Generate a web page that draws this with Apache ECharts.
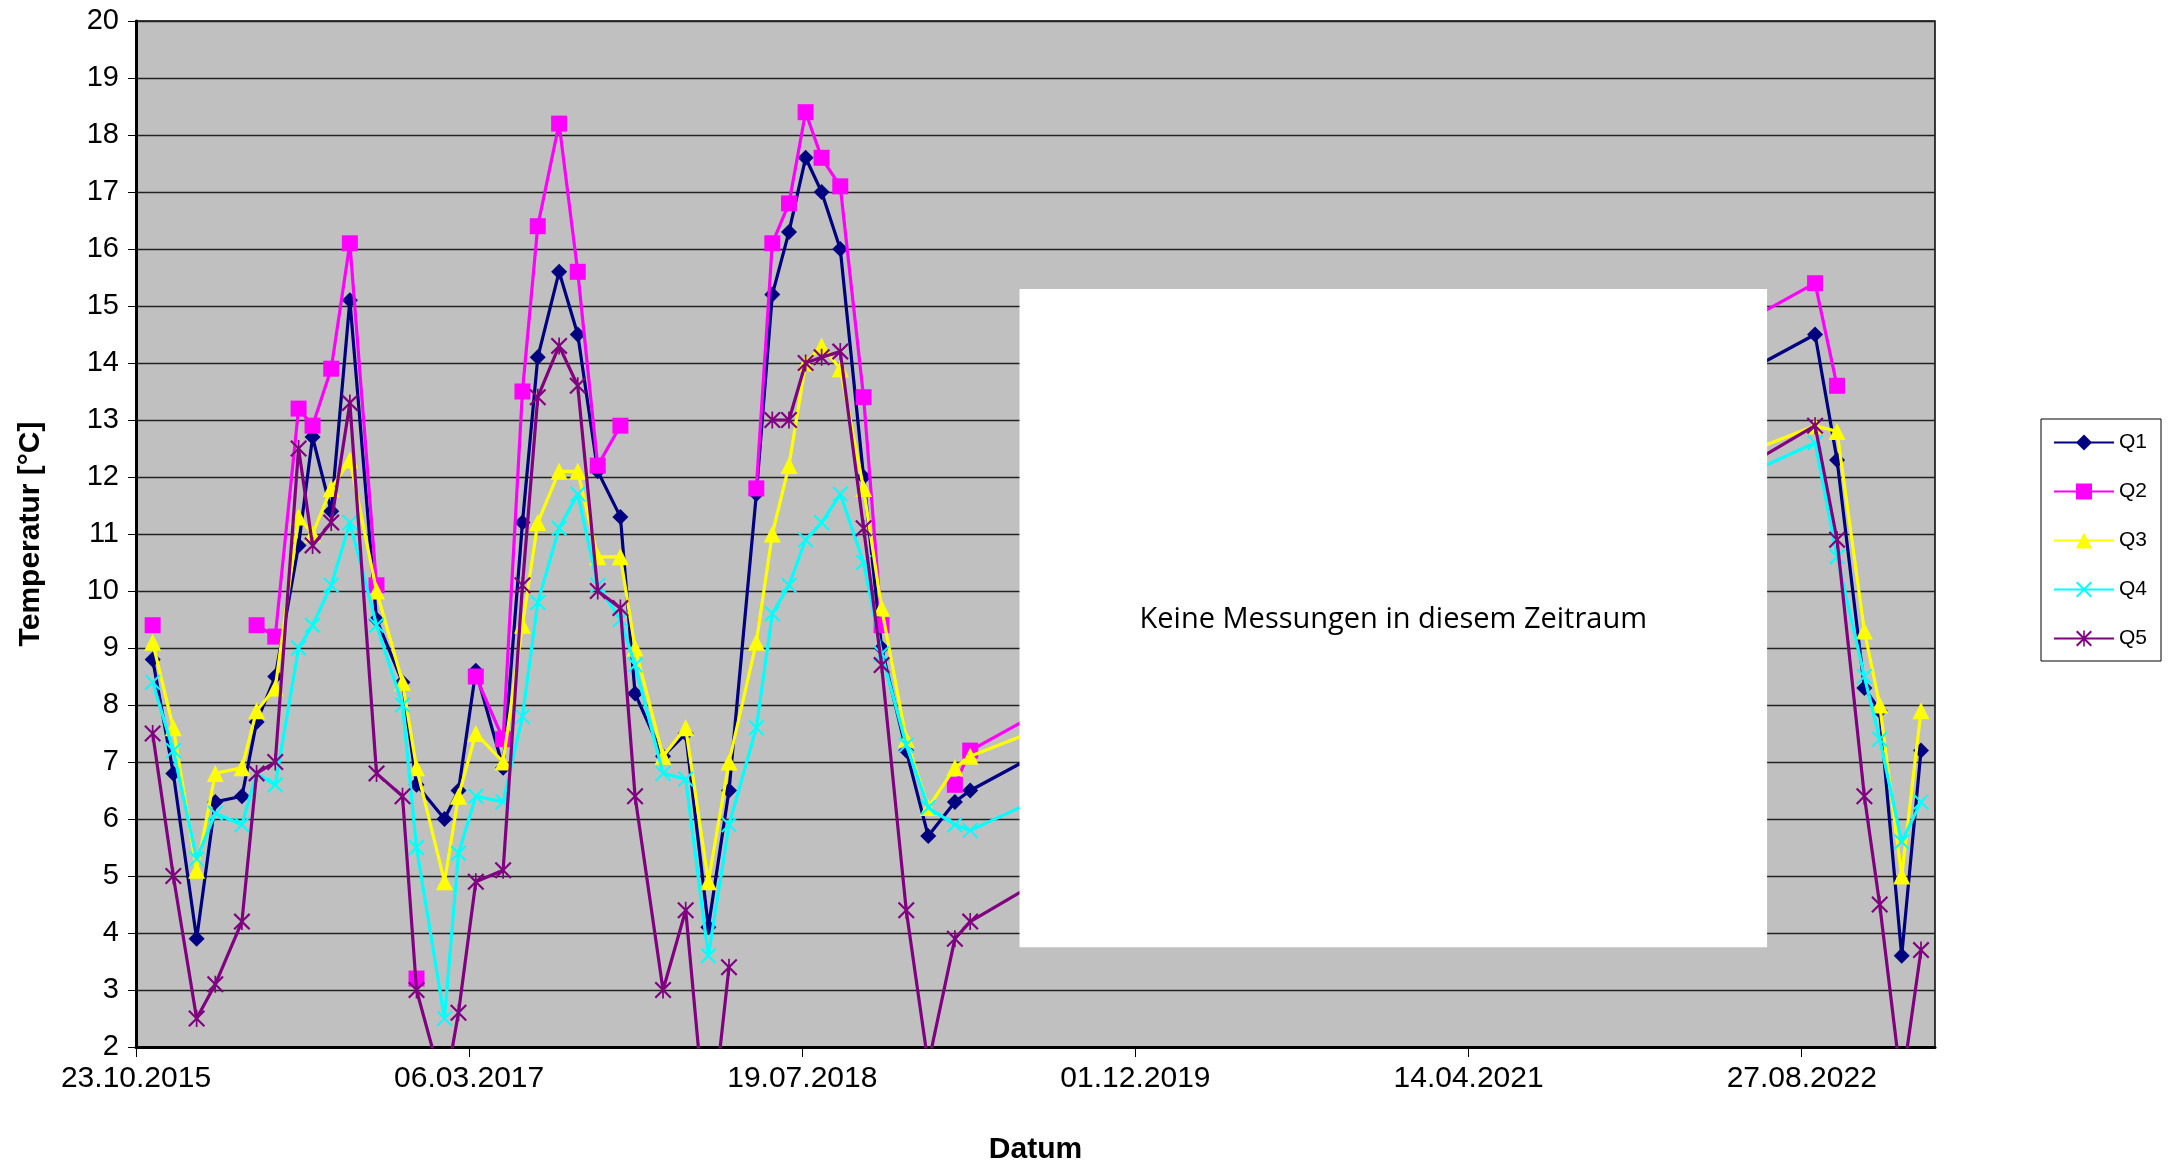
<!DOCTYPE html>
<html>
<head>
<meta charset="utf-8">
<title>Temperatur Q1 - Q5</title>
<script src="https://cdn.jsdelivr.net/npm/echarts@6/dist/echarts.min.js"></script>
<style>
  html, body { margin: 0; padding: 0; background: #fff; }
  #chart { width: 2175px; height: 1170px; }
</style>
</head>
<body>
<div id="chart"></div>
<script>
// Probenahme-Daten und Temperaturen [°C] der Quellen Q1-Q5 (null = kein Messwert)
var dates = ['2015-11-17', '2015-12-18', '2016-01-22', '2016-02-19', '2016-03-30', '2016-04-21',
  '2016-05-19', '2016-06-23', '2016-07-14', '2016-08-11', '2016-09-08', '2016-10-18', '2016-11-26',
  '2016-12-17', '2017-01-28', '2017-02-18', '2017-03-16', '2017-04-26', '2017-05-25', '2017-06-17',
  '2017-07-19', '2017-08-16', '2017-09-15', '2017-10-19', '2017-11-10', '2017-12-22', '2018-01-25',
  '2018-02-28', '2018-03-31', '2018-05-11', '2018-06-04', '2018-06-29', '2018-07-24', '2018-08-17',
  '2018-09-14', '2018-10-19', '2018-11-15', '2018-12-22', '2019-01-24', '2019-03-05', '2019-03-28',
  '2022-09-16', '2022-10-19', '2022-11-29', '2022-12-22', '2023-01-24', '2023-02-22'];

var q1 = [8.8, 6.8, 3.9, 6.3, 6.4, 7.7, 8.5, 10.8, 12.7, 11.4, 15.1,
  9.5, 8.4, 6.6, 6.0, 6.5, 8.6, 6.9, 11.2, 14.1, 15.6, 14.5,
  12.1, 11.3, 8.2, 7.1, 7.5, 4.1, 6.5,
  11.7, 15.2, 16.3, 17.6, 17.0, 16.0, 12.0, 9.0, 7.2, 5.7, 6.3, 6.5,
  14.5, 12.3, 8.3, 7.9, 3.6, 7.2];
var q2 = [9.4, null, null, null, null, 9.4, 9.2, 13.2, 12.9, 13.9, 16.1,
  10.1, null, 3.2, null, null, 8.5, 7.4, 13.5, 16.4, 18.2, 15.6,
  12.2, 12.9, null, null, null, null, null,
  11.8, 16.1, 16.8, 18.4, 17.6, 17.1, 13.4, 9.4, null, null, 6.6, 7.2,
  15.4, 13.6, null, null, null, null];
var q3 = [9.1, 7.6, 5.1, 6.8, 6.9, 7.9, 8.3, 11.3, 11.0, 11.8, 12.3,
  10.0, 8.4, 6.9, 4.9, 6.4, 7.5, 7.0, 9.4, 11.2, 12.1, 12.1,
  10.6, 10.6, 9.0, 7.1, 7.6, 4.9, 7.0,
  9.1, 11.0, 12.2, 14.0, 14.3, 13.9, 11.8, 9.7, 7.4, 6.2, 6.9, 7.1,
  12.9, 12.8, 9.3, 8.0, 5.0, 7.9];
var q4 = [8.4, 7.2, 5.3, 6.1, 5.9, 6.8, 6.6, 9.0, 9.4, 10.1, 11.2,
  9.4, 8.0, 5.5, 2.5, 5.4, 6.4, 6.3, 7.8, 9.8, 11.1, 11.7,
  10.1, 9.5, 8.7, 6.8, 6.7, 3.6, 5.9,
  7.6, 9.6, 10.1, 10.9, 11.2, 11.7, 10.5, 8.9, 7.3, 6.2, 5.9, 5.8,
  12.6, 10.6, 8.5, 7.4, 5.6, 6.3];
var q5 = [7.5, 5.0, 2.5, 3.1, 4.2, 6.8, 7.0, 12.5, 10.8, 11.2, 13.3,
  6.8, 6.4, 3.0, 1.2, 2.6, 4.9, 5.1, 10.1, 13.4, 14.3, 13.6,
  10.0, 9.7, 6.4, 3.0, 4.4, 0.1, 3.4,
  null, 13.0, 13.0, 14.0, 14.1, 14.2, 11.1, 8.7, 4.4, 1.7, 3.9, 4.2,
  12.9, 10.9, 6.4, 4.5, 1.3, 3.7];

var seriesNames = ['Q1', 'Q2', 'Q3', 'Q4', 'Q5'];
var seriesColors = ['#000080', '#ff00ff', '#ffff00', '#00ffff', '#800080'];

// Achse: Tage ab 23.10.2015, Teilung 500 Tage
var startDate = '2015-10-23';
var axisDays = [0, 2700, 500];
var tempAxis = [2, 20, 1];

// Zeitraum ohne Messungen (weisser Kasten)
var gapFrom = '2019-06-10', gapTo = '2022-07-06';
var gapTemp = [3.75, 15.3];
var gapText = 'Keine Messungen in diesem Zeitraum';

var DAY = 86400000;
var t0 = Date.parse(startDate);
function dayOf(s) { return (Date.parse(s) - t0) / DAY; }
function pad(n) { return (n < 10 ? '0' : '') + n; }
function fmtDay(v) {
  var d = new Date(t0 + v * DAY);
  return pad(d.getUTCDate()) + '.' + pad(d.getUTCMonth() + 1) + '.' + d.getUTCFullYear();
}

// Marker wie im Excel-Original
var xPath = 'path://M0,9L9,0L50,41L91,0L100,9L59,50L100,91L91,100L50,59L9,100L0,91L41,50Z';
var starPath = xPath + 'M45,0L55,0L55,100L45,100Z';
var symbols = ['diamond', 'rect', 'triangle', xPath, starPath];
var symbolSizes = [16, 16, 17, 16, 17];

var font = '"Liberation Sans", Arial, sans-serif';

function pairs(vals) {
  return dates.map(function (d, i) {
    return [dayOf(d), vals[i] == null ? '-' : vals[i]];
  });
}

var values = [q1, q2, q3, q4, q5];
var series = seriesNames.map(function (name, i) {
  return {
    name: name,
    type: 'line',
    data: pairs(values[i]),
    clip: true,
    connectNulls: false,
    symbol: symbols[i],
    symbolSize: symbolSizes[i],
    showAllSymbol: true,
    lineStyle: { color: seriesColors[i], width: 3.2 },
    itemStyle: { color: seriesColors[i] },
    z: 2 + i
  };
});

var chart = echarts.init(document.getElementById('chart'));
chart.setOption({
  animation: false,
  backgroundColor: '#fff',
  grid: {
    left: 136, top: 21, width: 1799, height: 1037,
    show: true, backgroundColor: '#c0c0c0',
    borderColor: '#000', borderWidth: 1.5
  },
  legend: {
    data: seriesNames,
    orient: 'vertical',
    left: 2041, top: 419,
    backgroundColor: '#fff',
    borderColor: '#000', borderWidth: 1,
    padding: [13, 14, 12, 12],
    itemWidth: 60, itemHeight: 20, itemGap: 28,
    textStyle: { fontSize: 21, color: '#000', fontFamily: font }
  },
  xAxis: {
    type: 'value',
    min: axisDays[0], max: axisDays[1], interval: axisDays[2],
    name: 'Datum',
    nameLocation: 'middle',
    nameGap: 88,
    nameTextStyle: { fontSize: 30, fontWeight: 'bold', color: '#000', fontFamily: font },
    axisLine: { lineStyle: { color: '#000', width: 3 } },
    axisTick: { show: true, length: 10, lineStyle: { color: '#000', width: 1 } },
    axisLabel: { formatter: fmtDay, fontSize: 30, color: '#000', fontFamily: font, margin: 17, showMaxLabel: false },
    splitLine: { show: false }
  },
  yAxis: {
    type: 'value',
    min: tempAxis[0], max: tempAxis[1], interval: tempAxis[2],
    name: 'Temperatur [°C]',
    nameLocation: 'middle',
    nameGap: 90,
    nameTextStyle: { fontSize: 30, fontWeight: 'bold', color: '#000', fontFamily: font },
    axisLine: { lineStyle: { color: '#000', width: 3 } },
    axisTick: { show: true, length: 8, lineStyle: { color: '#000', width: 1 } },
    axisLabel: { fontSize: 29, color: '#000', fontFamily: font, margin: 17 },
    splitLine: { show: true, lineStyle: { color: '#222', width: 1.3 } }
  },
  series: series
});

// weisser Kasten ueber den Linien, Lage aus den Achsen
var a = chart.convertToPixel({ gridIndex: 0 }, [dayOf(gapFrom), gapTemp[1]]);
var b = chart.convertToPixel({ gridIndex: 0 }, [dayOf(gapTo), gapTemp[0]]);
chart.setOption({
  graphic: [{
    type: 'rect',
    z: 100,
    silent: true,
    shape: { x: a[0], y: a[1], width: b[0] - a[0], height: b[1] - a[1] },
    style: { fill: '#fff' }
  }, {
    type: 'text',
    z: 101,
    silent: true,
    x: (a[0] + b[0]) / 2,
    y: (a[1] + b[1]) / 2 + 2,
    style: {
      text: gapText,
      fill: '#000',
      fontSize: 29,
      fontFamily: '"Open Sans", sans-serif',
      align: 'center', verticalAlign: 'middle',
      textAlign: 'center', textVerticalAlign: 'middle'
    }
  }]
});
</script>
</body>
</html>
